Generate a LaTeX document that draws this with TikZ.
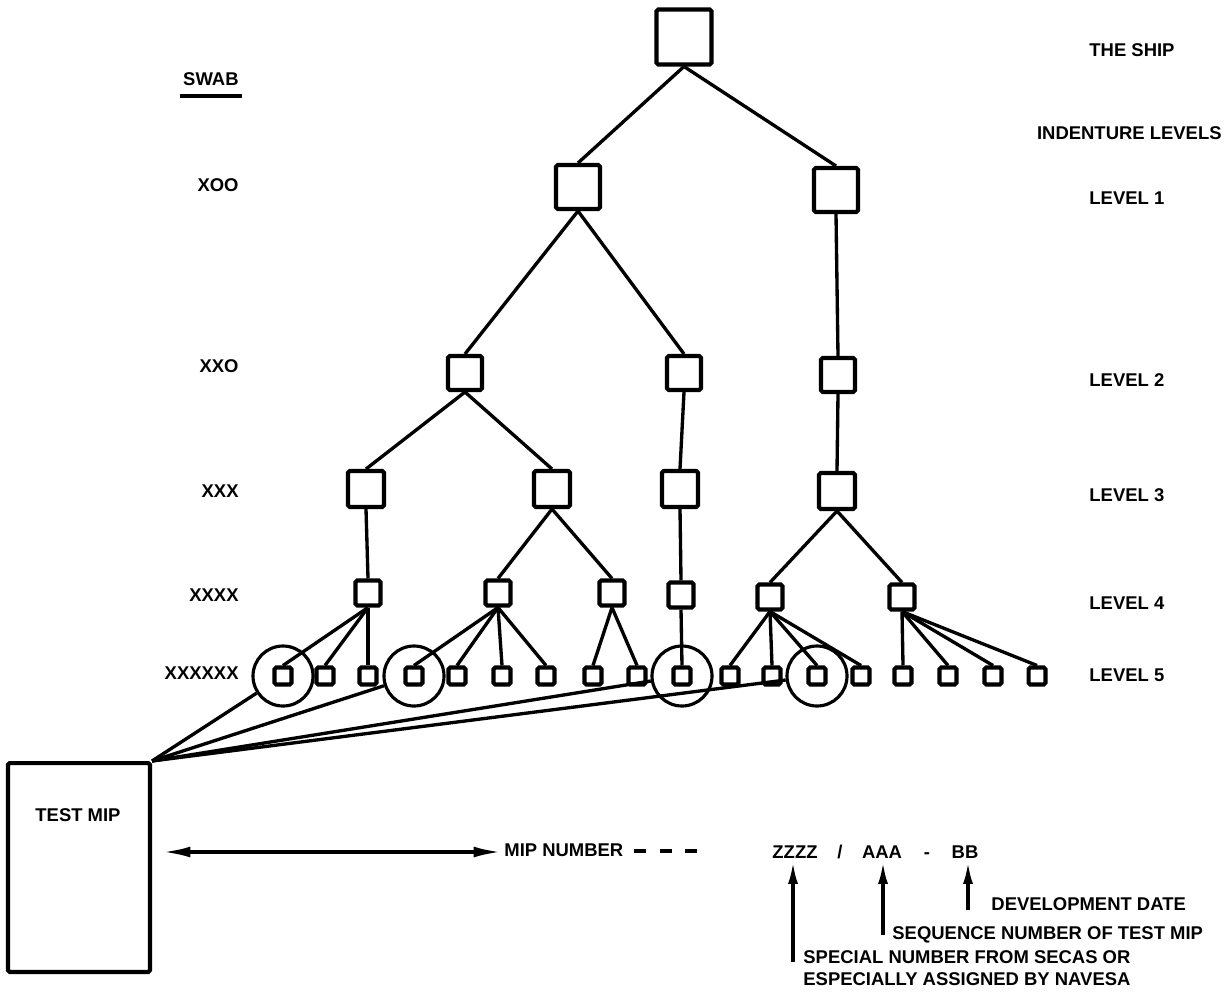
\documentclass[tikz,border=0pt]{standalone}
\usepackage{fontspec}
\setmainfont{Liberation Sans}
\usetikzlibrary{positioning, arrows.meta}

\begin{document}
\begin{tikzpicture}[x=0.02cm, y=-0.02cm, line width=1.9pt,
	box/.style={draw, rectangle, rounded corners=1pt, line width=2.3pt, inner sep=0pt, minimum size=#1},
	box/.default=0pt,
	ring/.style={draw, circle, minimum size=1.2cm, inner sep=0pt, line width=1.8pt},
	lbl/.style={font=\fontsize{10.5}{12.5}\selectfont\bfseries, inner sep=1pt},
	upar/.style={-{Latex[length=0.45cm, width=0.2cm]}, line width=1.9pt}]
	\useasboundingbox (0,0) rectangle (1229,1007);
	%tree
	\node[box=1.1cm] (ship) at (684,37) {};
	\node[box=0.88cm] (l1a) at (578,187) {};
	\node[box=0.88cm] (l1b) at (836,190) {};
	\node[box=0.68cm] (l2a) at (465,373) {};
	\node[box=0.68cm] (l2b) at (684,373) {};
	\node[box=0.68cm] (l2c) at (838,375) {};
	\node[box=0.72cm] (l3a) at (366,489) {};
	\node[box=0.72cm] (l3b) at (552,489) {};
	\node[box=0.72cm] (l3c) at (680,489) {};
	\node[box=0.72cm] (l3d) at (837,491) {};
	\node[box=0.5cm] (l4a) at (368,593) {};
	\node[box=0.5cm] (l4b) at (498,593) {};
	\node[box=0.5cm] (l4c) at (612,593) {};
	\node[box=0.5cm] (l4d) at (681,595) {};
	\node[box=0.5cm] (l4e) at (770,597) {};
	\node[box=0.5cm] (l4f) at (902,597) {};
	\node[box=0.34cm] (l5a) at (283,676) {};
	\node[box=0.34cm] (l5b) at (325,676) {};
	\node[box=0.34cm] (l5c) at (368,676) {};
	\node[box=0.34cm] (l5d) at (414,676) {};
	\node[box=0.34cm] (l5e) at (457,676) {};
	\node[box=0.34cm] (l5f) at (502,676) {};
	\node[box=0.34cm] (l5g) at (546,676) {};
	\node[box=0.34cm] (l5h) at (593,676) {};
	\node[box=0.34cm] (l5i) at (637,676) {};
	\node[box=0.34cm] (l5j) at (682,676) {};
	\node[box=0.34cm] (l5k) at (730,676) {};
	\node[box=0.34cm] (l5l) at (772,676) {};
	\node[box=0.34cm] (l5m) at (817,676) {};
	\node[box=0.34cm] (l5n) at (861,676) {};
	\node[box=0.34cm] (l5o) at (903,676) {};
	\node[box=0.34cm] (l5p) at (948,676) {};
	\node[box=0.34cm] (l5q) at (993,676) {};
	\node[box=0.34cm] (l5r) at (1037,676) {};
	\node[ring] (c1) at (l5a) {};
	\node[ring] (c2) at (l5d) {};
	\node[ring] (c3) at (l5j) {};
	\node[ring] (c4) at (l5m) {};
	%branches
	\draw (ship.south) -- (l1a.north);
	\draw (ship.south) -- (l1b.north);
	\draw (l1a.south) -- (l2a.north);
	\draw (l1a.south) -- (l2b.north);
	\draw (l1b.south) -- (l2c.north);
	\draw (l2a.south) -- (l3a.north);
	\draw (l2a.south) -- (l3b.north);
	\draw (l2b.south) -- (l3c.north);
	\draw (l2c.south) -- (l3d.north);
	\draw (l3a.south) -- (l4a.north);
	\draw (l3b.south) -- (l4b.north);
	\draw (l3b.south) -- (l4c.north);
	\draw (l3c.south) -- (l4d.north);
	\draw (l3d.south) -- (l4e.north);
	\draw (l3d.south) -- (l4f.north);
	\draw (l4a.south) -- (l5a.north);
	\draw (l4a.south) -- (l5b.north);
	\draw (l4a.south) -- (l5c.north);
	\draw (l4b.south) -- (l5d.north);
	\draw (l4b.south) -- (l5e.north);
	\draw (l4b.south) -- (l5f.north);
	\draw (l4b.south) -- (l5g.north);
	\draw (l4c.south) -- (l5h.north);
	\draw (l4c.south) -- (l5i.north);
	\draw (l4d.south) -- (l5j.north);
	\draw (l4e.south) -- (l5k.north);
	\draw (l4e.south) -- (l5l.north);
	\draw (l4e.south) -- (l5m.north);
	\draw (l4e.south) -- (l5n.north);
	\draw (l4f.south) -- (l5o.north);
	\draw (l4f.south) -- (l5p.north);
	\draw (l4f.south) -- (l5q.north);
	\draw (l4f.south) -- (l5r.north);
	%test mip
	\node[box, minimum width=2.84cm, minimum height=4.18cm] (mip) at (79,867.5) {};
	\node[lbl] (mipname) at (78,815) {TEST MIP};
	\draw (mip.north east) -- (c1);
	\draw (mip.north east) -- (c2);
	\draw (mip.north east) -- (c3);
	\draw (mip.north east) -- (c4);
	%side labels
	\node[lbl, anchor=east] (swab) at (242,79) {SWAB};
	\draw[line width=2.2pt] ([yshift=-4pt]swab.south west) -- ([yshift=-4pt]swab.south east);
	\node[lbl, anchor=east] (sxoo) at (242,185) {XOO};
	\node[lbl, anchor=east] (sxxo) at (242,366) {XXO};
	\node[lbl, anchor=east] (sxxx) at (242,491) {XXX};
	\node[lbl, anchor=east] (sxxxx) at (242,595) {XXXX};
	\node[lbl, anchor=east] (sxxxxxx) at (242,673) {XXXXXX};
	\node[lbl, anchor=west] (theship) at (1086,50) {THE SHIP};
	\node[lbl, anchor=east] (indent) at (1225,133) {INDENTURE LEVELS};
	\node[lbl, anchor=west] (lev1) at (1086,198) {LEVEL 1};
	\node[lbl, anchor=west] (lev2) at (1086,380) {LEVEL 2};
	\node[lbl, anchor=west] (lev3) at (1086,495) {LEVEL 3};
	\node[lbl, anchor=west] (lev4) at (1086,603) {LEVEL 4};
	\node[lbl, anchor=west] (lev5) at (1086,675) {LEVEL 5};
	%mip number
	\node[lbl, anchor=west] (mipnum) at (501,850) {MIP NUMBER};
	\coordinate (arrl) at (163,852);
	\coordinate (dashstart) at (634,851);
	\coordinate (dashend) at (697,851);
	\draw[{Latex[length=0.55cm, width=0.22cm]}-{Latex[length=0.55cm, width=0.22cm]}] (arrl) -- (arrl -| mipnum.west);
	\draw[dash pattern=on 0.24cm off 0.27cm] (dashstart) -- (dashend);
	\node[lbl, anchor=base] (zz) at (795,858) {ZZZZ};
	\node[lbl, anchor=base] (slash) at (840,858) {/};
	\node[lbl, anchor=base] (aaa) at (882,858) {AAA};
	\node[lbl, anchor=base] (hyph) at (927,858) {-};
	\node[lbl, anchor=base] (bb) at (965,858) {BB};
	\coordinate (t1) at (793,962);
	\coordinate (t2) at (883,935);
	\coordinate (t3) at (968,910);
	\draw[upar] (t1) -- (t1 |- zz.south);
	\draw[upar] (t2) -- (t2 |- aaa.south);
	\draw[upar] (t3) -- (t3 |- bb.south);
	\node[lbl, anchor=west] (devdate) at (988,904) {DEVELOPMENT DATE};
	\node[lbl, anchor=west] (seqnum) at (889,935) {SEQUENCE NUMBER OF TEST MIP};
	\node[lbl, anchor=west, align=left] (special) at (800,968) {SPECIAL NUMBER FROM SECAS OR\\ESPECIALLY ASSIGNED BY NAVESA};
\end{tikzpicture}
\end{document}
